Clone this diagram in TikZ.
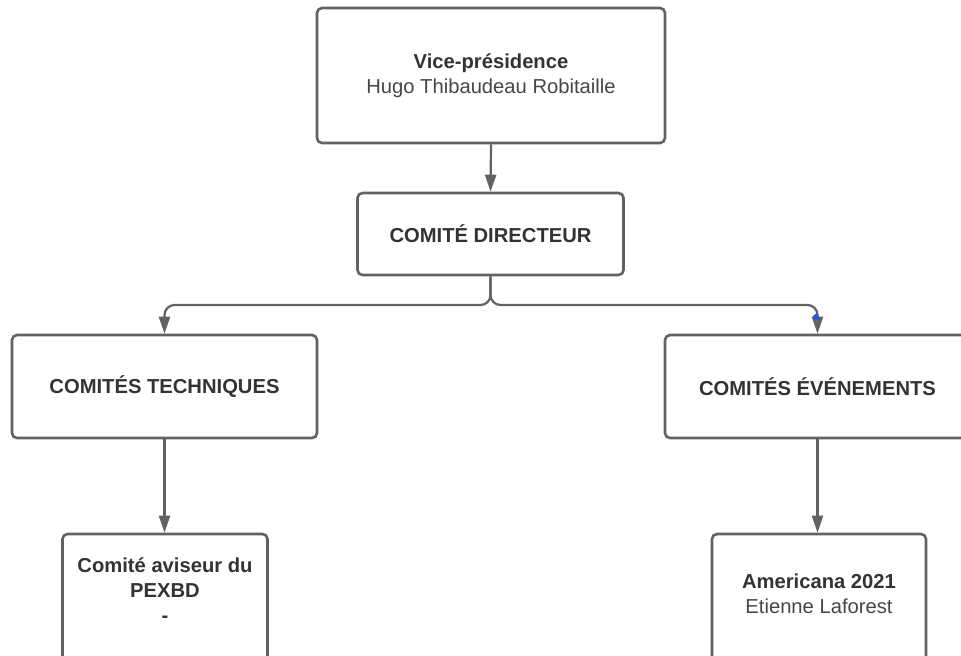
\documentclass[tikz,border=0pt]{standalone}
\usepackage{fontspec}
\setmainfont{Liberation Sans}
\usetikzlibrary{arrows.meta}
\definecolor{linec}{RGB}{98,98,98}
\definecolor{txtc}{RGB}{51,51,51}
\definecolor{txtl}{RGB}{70,70,70}
\definecolor{handle}{RGB}{30,90,230}
\tikzset{
  box/.style={draw=linec, line width=1.3pt, rounded corners=2.5pt, fill=white, inner sep=0pt, align=center, text=txtc, font=\fontsize{10.1}{12.5}\selectfont},
  txt/.style={inner sep=0pt, align=center, text=txtc, font=\fontsize{10.1}{12.5}\selectfont},
  conn/.style={draw=linec, line width=1.1pt, -{Triangle[width=5.5pt,length=8.5pt]}},
}
\begin{document}
\begin{tikzpicture}[x=0.5pt,y=-0.5pt]
\useasboundingbox (0,0) rectangle (961,655);
\clip (0,0) rectangle (961,655);
\fill[white] (0,0) rectangle (961,655);

\node[box, minimum width=174pt, minimum height=67.5pt] (vp) at (491,75.5)
  {\textbf{Vice-présidence}\\{\color{txtl}Hugo Thibaudeau Robitaille}};
\node[box, minimum width=133pt, minimum height=41pt] (cd) at (490.5,234)
  {\textbf{COMITÉ DIRECTEUR}};
\node[box, minimum width=152.5pt, minimum height=51.5pt] (ct) at (164.5,386.5)
  {\textbf{COMITÉS TECHNIQUES}};
\node[box, minimum width=152.5pt, minimum height=51.5pt] (ce) at (817.5,386.5)
  {\textbf{COMITÉS ÉVÉNEMENTS}};
\node[box, minimum width=102.5pt, minimum height=68pt] (cav) at (165,602) {};
\node[txt] (cavt) at (165,590) {\textbf{Comité aviseur du}\\\textbf{PEXBD}\\\textbf{-}};
\node[box, minimum width=107pt, minimum height=68pt] (am) at (819,602) {};
\node[txt] (amt) at (819,594) {\textbf{Americana 2021}\\{\color{txtl}Etienne Laforest}};

\coordinate (jn) at (490.5,305);
\draw[conn] (vp.south) -- (cd.north);
\draw[conn, rounded corners=5pt] (cd.south) -- (jn) -| (ct.north);
\draw[conn, rounded corners=5pt] (cd.south) -- (jn) -| (ce.north);
\draw[conn] (ct.south) -- (ct.south |- cav.north);
\draw[conn] (ce.south) -- (ce.south |- am.north);
\node[circle, fill=handle, inner sep=0pt, minimum size=3pt] (hd) at (816,317) {};
\end{tikzpicture}
\end{document}
